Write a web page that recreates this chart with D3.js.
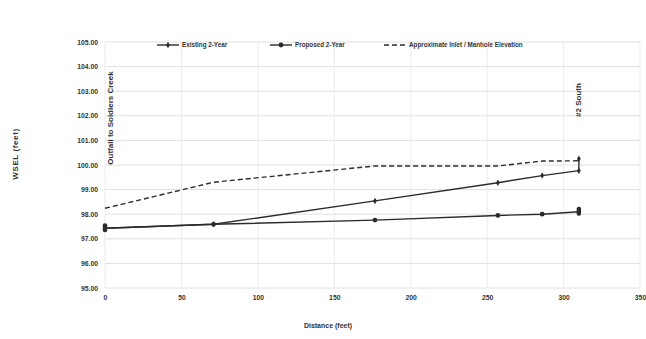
<!DOCTYPE html>
<html lang="en">
<head>
    <meta charset="UTF-8">
    <script src="https://cdn.jsdelivr.net/npm/d3@7"></script>
    <title>WSEL profile</title>
    <style>
        body { margin: 0; background: #fff; }
        text { font-family: "Liberation Sans", Arial, sans-serif; fill: #333; }
    </style>
</head>
<body>
</body>
<script>
    // distances (feet) for each node along the run
    let distances = [0, 71, 176.6, 257, 286, 310];
    let existing2yr = [97.43, 97.59, 98.54, 99.28, 99.57, 99.77];
    let proposed2yr = [97.43, 97.59, 97.76, 97.95, 98.0, 98.1];
    let inletElev = [98.24, 99.3, 99.96, 99.96, 100.16, 100.17];
    let xTicks = [0, 50, 100, 150, 200, 250, 300, 350];
    let yTicks = [95, 96, 97, 98, 99, 100, 101, 102, 103, 104, 105];
    let seriesNames = ["Existing 2-Year", "Proposed 2-Year", "Approximate Inlet / Manhole Elevation"];

    let width = 646, height = 339;
    let m = {left: 105, right: 6, top: 42, bottom: 51};

    let svg = d3.select("body").append("svg")
        .attr("width", width)
        .attr("height", height);

    let x = d3.scaleLinear().domain([0, 350]).range([m.left, width - m.right]);
    let y = d3.scaleLinear().domain([95, 105]).range([height - m.bottom, m.top]);

    // grid
    svg.append("g").selectAll("line.h").data(yTicks).join("line")
        .attr("x1", m.left).attr("x2", width - m.right)
        .attr("y1", d => y(d)).attr("y2", d => y(d))
        .attr("stroke", "#e0e0e0").attr("stroke-width", 1);
    svg.append("g").selectAll("line.v").data(xTicks).join("line")
        .attr("y1", m.top).attr("y2", height - m.bottom)
        .attr("x1", d => x(d)).attr("x2", d => x(d))
        .attr("stroke", "#ebebeb").attr("stroke-width", 1);

    // axes, no domain line
    svg.append("g")
        .attr("transform", `translate(0,${height - m.bottom})`)
        .call(d3.axisBottom(x).tickValues(xTicks).tickSize(0).tickPadding(7));
    svg.append("g")
        .attr("transform", `translate(${m.left},0)`)
        .call(d3.axisLeft(y).tickValues(yTicks).tickSize(0).tickPadding(7).tickFormat(d3.format(".2f")));
    svg.selectAll(".domain").remove();
    svg.selectAll(".tick text")
        .style("font-size", "6.8px").style("font-weight", "bold")
        .style("font-family", "'Liberation Sans', Arial, sans-serif").attr("fill", "#333");

    // axis titles
    svg.append("text")
        .attr("transform", "translate(18,154) rotate(-90)")
        .attr("text-anchor", "middle")
        .style("font-size", "8px").style("font-weight", "bold")
        .style("letter-spacing", "0.6px")
        .text("WSEL (feet)");
    svg.append("text")
        .attr("x", 328).attr("y", 328)
        .attr("text-anchor", "middle")
        .style("font-size", "7px").style("font-weight", "bold")
        .text("Distance (feet)");

    // location labels
    svg.append("text")
        .attr("transform", `translate(${x(0) + 8},118) rotate(-90)`)
        .attr("text-anchor", "middle")
        .style("font-size", "8px").style("font-weight", "bold")
        .text("Outfall to Soldiers Creek");
    svg.append("text")
        .attr("transform", `translate(${x(310) + 2},100) rotate(-90)`)
        .attr("text-anchor", "middle")
        .style("font-size", "8px").style("font-weight", "bold")
        .text("#2 South");

    let line = d3.line().x(d => x(d[0])).y(d => y(d[1]));
    let lineColor = "#2b2b2b";
    let last = distances.length - 1;

    // dashed inlet elevation
    svg.append("path")
        .datum(d3.zip(distances, inletElev))
        .attr("d", line)
        .attr("fill", "none").attr("stroke", lineColor)
        .attr("stroke-width", 1.4).attr("stroke-dasharray", "5,3");

    // proposed
    let prop = d3.zip(distances, proposed2yr);
    svg.append("path").datum(prop).attr("d", line)
        .attr("fill", "none").attr("stroke", lineColor).attr("stroke-width", 1.4);
    svg.append("g").selectAll("circle").data(prop.slice(1, last)).join("circle")
        .attr("cx", d => x(d[0])).attr("cy", d => y(d[1])).attr("r", 2.4)
        .attr("fill", lineColor);
    // end nodes drawn as stacked markers
    svg.append("g").selectAll("rect").data([prop[0], prop[last]]).join("rect")
        .attr("x", d => x(d[0]) - 2.2).attr("y", d => y(d[1]) - 5)
        .attr("width", 4.4).attr("height", 9).attr("rx", 2)
        .attr("fill", lineColor);

    // existing
    let exist = d3.zip(distances, existing2yr);
    svg.append("path").datum(exist).attr("d", line)
        .attr("fill", "none").attr("stroke", lineColor).attr("stroke-width", 1.4);
    svg.append("g").selectAll("path.mk").data(exist.slice(1)).join("path")
        .attr("d", d3.symbol(d3.symbolDiamond, 12))
        .attr("transform", d => `translate(${x(d[0])},${y(d[1])})`)
        .attr("fill", lineColor);

    // end-of-run marker joining existing to inlet elevation
    svg.append("line")
        .attr("x1", x(distances[last])).attr("x2", x(distances[last]))
        .attr("y1", y(existing2yr[last])).attr("y2", y(inletElev[last]) - 3)
        .attr("stroke", lineColor).attr("stroke-width", 1.4);
    svg.append("path").attr("d", d3.symbol(d3.symbolDiamond, 12))
        .attr("transform", `translate(${x(distances[last])},${y(inletElev[last]) - 2})`)
        .attr("fill", lineColor);

    // legend
    let legY = 45;
    let leg = [
        {x0: 157, name: seriesNames[0], dash: null, mark: "diamond"},
        {x0: 270, name: seriesNames[1], dash: null, mark: "circle"},
        {x0: 384, name: seriesNames[2], dash: "5,3", mark: null}
    ];
    leg.forEach(l => {
        svg.append("line")
            .attr("x1", l.x0).attr("x2", l.x0 + 22)
            .attr("y1", legY).attr("y2", legY)
            .attr("stroke", lineColor).attr("stroke-width", 1.4)
            .attr("stroke-dasharray", l.dash);
        if (l.mark === "circle") {
            svg.append("circle").attr("cx", l.x0 + 11).attr("cy", legY).attr("r", 2.4).attr("fill", lineColor);
        } else if (l.mark === "diamond") {
            svg.append("path").attr("d", d3.symbol(d3.symbolDiamond, 12))
                .attr("transform", `translate(${l.x0 + 11},${legY})`).attr("fill", lineColor);
        }
        svg.append("text")
            .attr("x", l.x0 + 25).attr("y", legY + 2)
            .style("font-size", "6.3px").style("font-weight", "bold")
            .text(l.name);
    });
</script>
</html>
